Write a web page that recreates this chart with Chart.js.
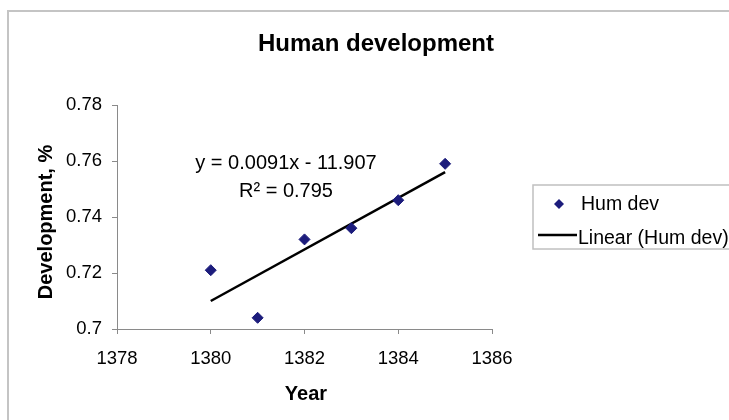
<!DOCTYPE html>
<html><head><meta charset="utf-8">
<script src="https://cdn.jsdelivr.net/npm/chart.js@4.4.1/dist/chart.umd.min.js"></script>
<style>html,body{margin:0;padding:0;background:#fff;} canvas{display:block;}</style>
</head><body>
<canvas id="c" width="729" height="420"></canvas>
<script>
const years = [1380, 1381, 1382, 1383, 1384, 1385];
const humDev = [0.721, 0.704, 0.732, 0.736, 0.746, 0.759];
const trendYears = [1380, 1385];
const trendValues = [0.710, 0.756];
const xTicks = [1378, 1380, 1382, 1384, 1386];
const yTicks = [0.70, 0.72, 0.74, 0.76, 0.78];
const yTickLabels = ['0.7', '0.72', '0.74', '0.76', '0.78'];
const titleText = 'Human development';
const xTitle = 'Year';
const yTitle = 'Development, %';
const seriesLabel = 'Hum dev';
const trendLabel = 'Linear (Hum dev)';
const eqLine1 = 'y = 0.0091x - 11.907';
const eqLine2 = 'R\u00B2 = 0.795';

const FONT = '"Liberation Sans", Arial, sans-serif';
const POINT_COLOR = '#1c1c7c';
const AXIS_COLOR = '#8a8a8a';

const deco = {
  id: 'deco',
  beforeDraw(chart) {
    const ctx = chart.ctx;
    ctx.save(); ctx.fillStyle = '#fff'; ctx.fillRect(0, 0, chart.width, chart.height); ctx.restore();
  },
  afterDraw(chart) {
    const ctx = chart.ctx;
    ctx.save();
    // outer chart border
    ctx.strokeStyle = '#c4c4c4'; ctx.lineWidth = 2;
    ctx.beginPath(); ctx.moveTo(8, 430); ctx.lineTo(8, 11); ctx.lineTo(740, 11); ctx.stroke();
    // titles
    ctx.fillStyle = '#000'; ctx.textAlign = 'center'; ctx.textBaseline = 'alphabetic';
    ctx.font = 'bold 24px ' + FONT; ctx.fillText(titleText, 376, 51);
    ctx.font = 'bold 20px ' + FONT; ctx.fillText(xTitle, 306, 400);
    ctx.save(); ctx.translate(52, 222); ctx.rotate(-Math.PI / 2); ctx.fillText(yTitle, 0, 0); ctx.restore();
    // equation
    ctx.font = '20px ' + FONT;
    ctx.fillText(eqLine1, 286, 169);
    ctx.fillText(eqLine2, 286, 197);
    // legend
    ctx.strokeStyle = '#c0c0c0'; ctx.lineWidth = 1.5;
    ctx.strokeRect(533, 185, 220, 64);
    ctx.fillStyle = POINT_COLOR;
    ctx.beginPath(); ctx.moveTo(559, 199); ctx.lineTo(564, 204); ctx.lineTo(559, 209); ctx.lineTo(554, 204); ctx.closePath(); ctx.fill();
    ctx.strokeStyle = '#000'; ctx.lineWidth = 2.5;
    ctx.beginPath(); ctx.moveTo(538, 235); ctx.lineTo(577, 235); ctx.stroke();
    ctx.fillStyle = '#000'; ctx.textAlign = 'left'; ctx.font = '19.5px ' + FONT;
    ctx.fillText(chart.data.datasets[0].label, 581, 210);
    ctx.fillText(chart.data.datasets[1].label, 578, 244);
    ctx.restore();
  }
};

new Chart(document.getElementById('c'), {
  type: 'scatter',
  data: {
    datasets: [
      {
        label: seriesLabel,
        data: years.map((x, i) => ({ x: x, y: humDev[i] })),
        pointStyle: 'rectRot', pointRadius: 5.5, pointHoverRadius: 5.5,
        backgroundColor: POINT_COLOR, borderColor: POINT_COLOR, borderWidth: 1,
        showLine: false, order: 0
      },
      {
        label: trendLabel,
        data: trendYears.map((x, i) => ({ x: x, y: trendValues[i] })),
        showLine: true, pointRadius: 0, pointHoverRadius: 0,
        borderColor: '#000', backgroundColor: '#000', borderWidth: 2.5, order: 1
      }
    ]
  },
  options: {
    responsive: false, animation: false,
    layout: { padding: { left: 0, top: 105, right: 237, bottom: 0 } },
    plugins: { legend: { display: false }, title: { display: false }, tooltip: { enabled: false } },
    scales: {
      x: {
        type: 'linear', min: xTicks[0], max: xTicks[xTicks.length - 1],
        afterBuildTicks: s => { s.ticks = xTicks.map(v => ({ value: v })); },
        afterFit: s => { s.height = 91; },
        grid: { display: true, drawOnChartArea: false, drawTicks: true, tickLength: 5, color: AXIS_COLOR, lineWidth: 1 },
        border: { display: true, color: AXIS_COLOR, width: 1 },
        ticks: { font: { size: 18.5, family: FONT }, color: '#000', padding: 14, maxRotation: 0, autoSkip: false,
                 callback: v => String(v) }
      },
      y: {
        type: 'linear', min: yTicks[0], max: yTicks[yTicks.length - 1],
        afterBuildTicks: s => { s.ticks = yTicks.map(v => ({ value: v })); },
        afterFit: s => { s.width = 117; },
        grid: { display: true, drawOnChartArea: false, drawTicks: true, tickLength: 5, color: AXIS_COLOR, lineWidth: 1 },
        border: { display: true, color: AXIS_COLOR, width: 1 },
        ticks: { font: { size: 18.5, family: FONT }, color: '#000', padding: 10, autoSkip: false,
                 callback: (v, i) => yTickLabels[i] }
      }
    }
  },
  plugins: [deco]
});
</script>
</body></html>
